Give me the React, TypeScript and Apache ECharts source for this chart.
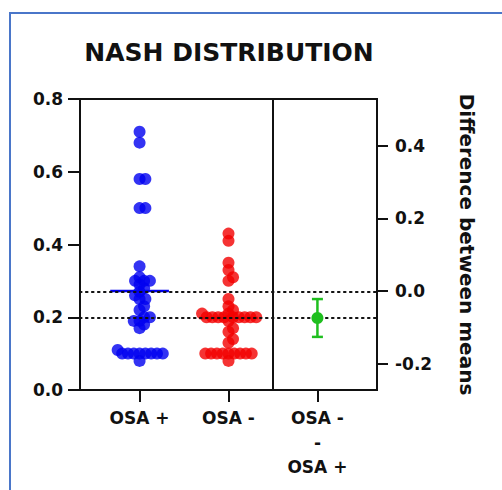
import React, { useEffect, useRef } from "react";
import * as echarts from "echarts";

// ---- data ----
const categories = ["OSA +", "OSA -", "OSA -\n-\nOSA +"];
const osaPlus = [
  0.71, 0.68, 0.58, 0.58, 0.50, 0.50,
  0.34, 0.31, 0.30, 0.30, 0.30, 0.29, 0.28, 0.27, 0.26, 0.25, 0.25, 0.23, 0.22,
  0.20, 0.20, 0.19, 0.19, 0.18, 0.17,
  0.11, 0.10, 0.10, 0.10, 0.10, 0.10, 0.10, 0.10, 0.10, 0.08,
];
const osaMinus = [
  0.43, 0.41, 0.35, 0.33, 0.31, 0.30,
  0.25, 0.23, 0.22, 0.21, 0.21, 0.20, 0.20, 0.20, 0.20, 0.20, 0.20, 0.20, 0.20, 0.20,
  0.19, 0.17, 0.16, 0.14, 0.13,
  0.10, 0.10, 0.10, 0.10, 0.10, 0.10, 0.10, 0.10, 0.10, 0.08,
];
const meanOsaPlus = 0.272;
const meanOsaMinus = 0.198;
const diffMean = -0.074;
const diffLow = -0.126;
const diffHigh = -0.022;
const rightTicks = [-0.2, 0, 0.2, 0.4];
const catTicks = [1, 2, 3];

const FONT = "DejaVu Sans";

// beeswarm offsets computed from the values
function swarm(values: number[], center: number, xPx: number, yPx: number, d: number) {
  const sorted = values.slice().sort((a, b) => a - b);
  const placed: { x: number; y: number }[] = [];
  const out: number[][] = [];
  for (const v of sorted) {
    const y = v * yPx;
    const near = placed.filter((p) => Math.abs(p.y - y) < d);
    const cands = [0];
    for (const p of near) {
      const dx = Math.sqrt(d * d - (p.y - y) * (p.y - y));
      cands.push(p.x + dx, p.x - dx);
    }
    const valid = cands.filter((c) =>
      near.every((p) => (p.x - c) ** 2 + (p.y - y) ** 2 >= d * d - 1e-6)
    );
    const sum = near.reduce((s, p) => s + p.x, 0);
    valid.sort((a, b) => {
      const da = Math.abs(a) - Math.abs(b);
      if (Math.abs(da) > 1e-6) return da;
      return sum > 0 ? a - b : b - a;
    });
    const x = valid[0];
    placed.push({ x, y });
    out.push([center + x / xPx, v]);
  }
  return out;
}

export default function App() {
  const ref = useRef<HTMLDivElement>(null);
  useEffect(() => {
    if (!ref.current) return;
    const chart = echarts.init(ref.current, null, { renderer: "svg" });
    const xMin = 0.33;
    const xMax = 3.67;
    const xPx = 297 / (xMax - xMin);
    const yPx = 291 / 0.8;
    const blue = swarm(osaPlus, 1, xPx, yPx, 5.8);
    const red = swarm(osaMinus, 2, xPx, yPx, 5.8);
    const labelStyle = { fontFamily: FONT, fontWeight: "bold" as const, fontSize: 17, color: "#111" };
    const axisLine = { show: true, lineStyle: { color: "#111", width: 2 } };

    chart.setOption({
      animation: false,
      backgroundColor: "#fff",
      title: {
        text: "NASH DISTRIBUTION",
        left: 224,
        top: 35,
        textAlign: "center",
        textStyle: { fontFamily: FONT, fontWeight: "bold", fontSize: 25, color: "#111" },
      },
      graphic: [
        {
          type: "rect",
          shape: { x: 10, y: 13, width: 520, height: 500 },
          style: { fill: "none", stroke: "#4a76c9", lineWidth: 2 },
          silent: true,
        },
      ],
      grid: {
        left: 80,
        right: 125,
        top: 99,
        bottom: 100,
        show: true,
        borderColor: "#111",
        borderWidth: 2,
      },
      xAxis: {
        type: "value",
        min: xMin,
        max: xMax,
        splitLine: { show: false },
        axisLine,
        axisTick: { show: true, customValues: catTicks, length: 12, lineStyle: { color: "#111", width: 2 } },
        axisLabel: {
          customValues: catTicks,
          formatter: (v: number) => categories[Math.round(v) - 1] ?? "",
          margin: 16,
          lineHeight: 24.5,
          ...labelStyle,
        },
      },
      yAxis: [
        {
          type: "value",
          min: 0,
          max: 0.8,
          interval: 0.2,
          position: "left",
          splitLine: { show: false },
          axisLine,
          axisTick: { show: true, length: 12, lineStyle: { color: "#111", width: 2 } },
          axisLabel: { formatter: (v: number) => v.toFixed(1), margin: 17, ...labelStyle },
        },
        {
          type: "value",
          min: -meanOsaPlus,
          max: 0.8 - meanOsaPlus,
          position: "right",
          splitLine: { show: false },
          axisLine,
          axisTick: { show: true, customValues: rightTicks, length: 11, lineStyle: { color: "#111", width: 2 } },
          axisLabel: {
            customValues: rightTicks,
            formatter: (v: number) => (Math.abs(v) < 1e-9 ? "0.0" : v.toFixed(1)),
            margin: 18,
            ...labelStyle,
          },
          name: "Difference between means",
          nameLocation: "middle",
          nameRotate: -90,
          nameGap: 80,
          nameTextStyle: { fontFamily: FONT, fontWeight: "bold", fontSize: 20, color: "#111" },
        },
      ],
      series: [
        {
          type: "scatter",
          name: "ref",
          data: [],
          z: 1,
          markLine: {
            silent: true,
            symbol: "none",
            label: { show: false },
            data: [
              { yAxis: meanOsaPlus, lineStyle: { type: [1.5, 4.5], color: "#111", width: 2.2, cap: "round" } },
              { yAxis: meanOsaMinus, lineStyle: { type: [1.5, 4.5], color: "#111", width: 2.2, cap: "round" } },
              { xAxis: 2.5, lineStyle: { type: "solid", color: "#111", width: 2 } },
            ],
          },
        },
        {
          type: "scatter",
          name: "OSA +",
          data: blue,
          symbolSize: 12,
          itemStyle: { color: "#0000f0" },
          z: 3,
        },
        {
          type: "scatter",
          name: "OSA -",
          data: red,
          symbolSize: 12,
          itemStyle: { color: "#f20000" },
          z: 3,
        },
        {
          type: "custom",
          name: "means",
          data: [
            [1, meanOsaPlus, 0],
            [2, meanOsaMinus, 1],
          ],
          z: 4,
          renderItem: (params: any, api: any) => {
            const x = api.value(0);
            const m = api.value(1);
            const a = api.coord([x - 0.33, m]);
            const b = api.coord([x + 0.33, m]);
            const color = api.value(2) === 0 ? "#0000f0" : "#f20000";
            return {
              type: "line",
              shape: { x1: a[0], y1: a[1], x2: b[0], y2: b[1] },
              style: { stroke: color, lineWidth: 2.5 },
            };
          },
        },
        {
          type: "custom",
          name: "difference",
          yAxisIndex: 1,
          data: [[3, diffMean, diffLow, diffHigh]],
          z: 5,
          renderItem: (params: any, api: any) => {
            const x = api.value(0);
            const c = api.coord([x, api.value(1)]);
            const lo = api.coord([x, api.value(2)]);
            const hi = api.coord([x, api.value(3)]);
            const g = "#1fbf1f";
            return {
              type: "group",
              children: [
                { type: "line", shape: { x1: lo[0], y1: lo[1], x2: hi[0], y2: hi[1] }, style: { stroke: g, lineWidth: 2.5 } },
                { type: "line", shape: { x1: lo[0] - 5.5, y1: lo[1], x2: lo[0] + 5.5, y2: lo[1] }, style: { stroke: g, lineWidth: 2.5 } },
                { type: "line", shape: { x1: hi[0] - 5.5, y1: hi[1], x2: hi[0] + 5.5, y2: hi[1] }, style: { stroke: g, lineWidth: 2.5 } },
                { type: "circle", shape: { cx: c[0], cy: c[1], r: 6 }, style: { fill: g } },
              ],
            };
          },
        },
      ],
    });
    return () => chart.dispose();
  }, []);
  return (
    <div
      ref={ref}
      style={{ position: "fixed", left: 0, top: 0, width: 502, height: 490, background: "#fff" }}
    />
  );
}
